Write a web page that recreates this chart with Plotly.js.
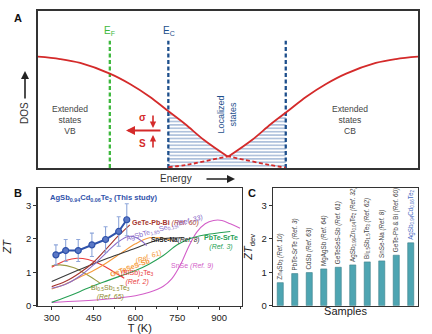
<!DOCTYPE html>
<html>
<head>
<meta charset="utf-8">
<script src="https://cdn.plot.ly/plotly-3.0.1.min.js"></script>
<style>html,body{margin:0;padding:0;background:#fff}#chart{width:432px;height:334px}</style>
</head>
<body>
<div id="chart"></div>
<script>
// ---------- Panel A : DOS schematic ----------
const leftSolidE = [0, 0.58, 1.11, 1.89, 2.42, 2.95, 3.39, 3.87, 4.37, 4.97];
const leftSolidDOS = [7.09, 6.94, 6.69, 6.01, 5.35, 4.52, 3.69, 2.80, 1.78, 0.76];
const leftDashE = [4.97, 5.58, 6.11, 6.52];
const leftDashDOS = [0.76, 0.45, 0.19, 0.02];
const rightSolidE = [5.03, 5.63, 6.13, 6.61, 7.05, 7.58, 8.11, 8.89, 9.42, 10];
const rightSolidDOS = [0.76, 1.78, 2.80, 3.69, 4.52, 5.35, 6.01, 6.69, 6.94, 7.09];
const rightDashE = [3.43, 3.89, 4.42, 5.03];
const rightDashDOS = [0.05, 0.19, 0.45, 0.76];
const hatchE = [3.43, 3.87, 4.37, 4.97, 5.03, 5.63, 6.13, 6.52];
const hatchTop = [3.55, 2.76, 1.74, 0.74, 0.74, 1.74, 2.76, 3.50];
const fermiE = 1.89;
const mobilityEdgesE = [3.43, 6.52];
const levelTop = 8.1;

// ---------- Panel B : ZT vs T ----------
const studyT = [315, 350, 395, 444, 493, 540, 569];
const studyZT = [1.52, 1.65, 1.65, 1.82, 1.98, 2.22, 2.57];
const studyErr = [0.30, 0.33, 0.33, 0.35, 0.38, 0.44, 0.48];

const geteT = [300, 350, 400, 450, 500, 540, 580];
const geteZT = [0.57, 0.73, 0.98, 1.30, 1.74, 2.10, 2.42];
const agsbteT = [300, 350, 400, 450, 500, 540, 575, 600, 625, 640];
const agsbteZT = [0.52, 0.64, 0.88, 1.22, 1.62, 1.92, 2.07, 2.05, 1.92, 1.80];
const snseNaT = [300, 400, 500, 600, 650, 700, 773];
const snseNaZT = [0.72, 1.08, 1.42, 1.72, 1.88, 2.00, 2.03];
const getesesT = [300, 350, 400, 450, 500, 550, 600, 650, 700, 730];
const getesesZT = [0.50, 0.65, 0.85, 1.05, 1.30, 1.58, 1.85, 2.03, 2.02, 1.96];
const pbteT = [300, 350, 400, 450, 500, 550, 600, 650, 700, 750, 800, 850, 900, 940];
const pbteZT = [0.10, 0.25, 0.42, 0.60, 0.75, 0.90, 1.05, 1.25, 1.50, 1.82, 2.02, 2.12, 2.18, 2.22];
const snseT = [300, 400, 500, 600, 650, 700, 730, 760, 790, 820, 850, 880, 910, 940, 975];
const snseZT = [0.10, 0.14, 0.20, 0.30, 0.40, 0.58, 0.80, 1.20, 1.75, 2.20, 2.45, 2.55, 2.55, 2.45, 2.32];
const bisbteT = [300, 350, 390, 430, 480, 520, 560];
const bisbteZT = [1.15, 1.35, 1.42, 1.38, 1.22, 1.02, 0.82];
const bi05T = [300, 330, 377, 424, 460, 475];
const bi05ZT = [1.19, 1.22, 1.14, 0.94, 0.75, 0.66];
const tTicks = [300, 450, 600, 750, 900];

// ---------- Panel C : ZT_dev bars ----------
const sampleLabels = [
  'Zn<sub>4</sub>Sb<sub>3</sub> <i>(Ref. 10)</i>',
  'PbTe-SrTe <i>(Ref. 3)</i>',
  'CdSb <i>(Ref. 63)</i>',
  'MgAgSb <i>(Ref. 64)</i>',
  'GeTeSeS-Sb <i>(Ref. 61)</i>',
  'AgSb<sub>0.96</sub>Zn<sub>0.04</sub>Te<sub>2</sub> <i>(Ref. 32)</i>',
  'Bi<sub>0.5</sub>Sb<sub>1.5</sub>Te<sub>3</sub> <i>(Ref. 62)</i>',
  'SnSe-Na <i>(Ref. 8)</i>',
  'GeTe-Pb &amp; Bi <i>(Ref. 60)</i>',
  'AgSb<sub>0.94</sub>Cd<sub>0.06</sub>Te<sub>2</sub>'
];
const sampleIds = ['s1','s2','s3','s4','s5','s6','s7','s8','s9','s10'];
const ztDev = [0.69, 0.96, 0.99, 1.10, 1.15, 1.22, 1.31, 1.34, 1.51, 1.88];

const FONT = 'Liberation Sans, Arial, sans-serif';
const RED = '#d42a2a', BLUEDK = '#1d4f8c', GREEN = '#3cb83c';

const traces = [
  // Panel A
  {x: hatchE, y: hatchTop, xaxis:'x', yaxis:'y', mode:'lines', line:{width:0}, fill:'tozeroy',
   fillcolor:'rgba(255,255,255,0)',
   fillpattern:{shape:'-', size:3.4, solidity:0.24, fgcolor:'#5a80b6', bgcolor:'rgba(255,255,255,0)'}},
  {x:[fermiE, fermiE], y:[0, levelTop], xaxis:'x', yaxis:'y', mode:'lines', line:{color:GREEN, width:2.3, dash:'4px,2.5px'}},
  {x:[mobilityEdgesE[0], mobilityEdgesE[0]], y:[0, levelTop], xaxis:'x', yaxis:'y', mode:'lines', line:{color:BLUEDK, width:2.3, dash:'4px,2.5px'}},
  {x:[mobilityEdgesE[1], mobilityEdgesE[1]], y:[0, levelTop], xaxis:'x', yaxis:'y', mode:'lines', line:{color:BLUEDK, width:2.3, dash:'4px,2.5px'}},
  {x: leftDashE, y: leftDashDOS, xaxis:'x', yaxis:'y', mode:'lines', line:{color:RED, width:1.8, dash:'4px,2.5px', shape:'spline'}},
  {x: rightDashE, y: rightDashDOS, xaxis:'x', yaxis:'y', mode:'lines', line:{color:RED, width:1.8, dash:'4px,2.5px', shape:'spline'}},
  {x: leftSolidE, y: leftSolidDOS, xaxis:'x', yaxis:'y', mode:'lines', line:{color:RED, width:1.8, shape:'spline'}},
  {x: rightSolidE, y: rightSolidDOS, xaxis:'x', yaxis:'y', mode:'lines', line:{color:RED, width:1.8, shape:'spline'}},
  // Panel B
  {x: snseT, y: snseZT, xaxis:'x2', yaxis:'y2', mode:'lines', line:{color:'#d35fc9', width:1.1, shape:'spline'}},
  {x: pbteT, y: pbteZT, xaxis:'x2', yaxis:'y2', mode:'lines', line:{color:'#27a055', width:1.1, shape:'spline'}},
  {x: bi05T, y: bi05ZT, xaxis:'x2', yaxis:'y2', mode:'lines', line:{color:'#9c9a42', width:1.1, shape:'spline'}},
  {x: bisbteT, y: bisbteZT, xaxis:'x2', yaxis:'y2', mode:'lines', line:{color:'#ea3b3b', width:1.1, shape:'spline'}},
  {x: getesesT, y: getesesZT, xaxis:'x2', yaxis:'y2', mode:'lines', line:{color:'#f59a3a', width:1.1, shape:'spline'}},
  {x: snseNaT, y: snseNaZT, xaxis:'x2', yaxis:'y2', mode:'lines', line:{color:'#3a3a3a', width:1.1, shape:'spline'}},
  {x: agsbteT, y: agsbteZT, xaxis:'x2', yaxis:'y2', mode:'lines', line:{color:'#8a6cc9', width:1.1, shape:'spline'}},
  {x: geteT, y: geteZT, xaxis:'x2', yaxis:'y2', mode:'lines', line:{color:'#a5352e', width:1.1, shape:'spline'}},
  {x: studyT, y: studyZT, xaxis:'x2', yaxis:'y2', mode:'lines+markers',
   line:{color:'#2f52aa', width:2},
   marker:{size:6, color:'#5b78c6', line:{color:'#2f52aa', width:1.2}},
   error_y:{type:'data', array: studyErr, visible:true, color:'#8ea6da', thickness:1.1, width:2}},
  // Panel C
  {type:'bar', x: sampleIds, y: ztDev, xaxis:'x3', yaxis:'y3',
   marker:{color:'#4ea5b2', line:{color:'#3d7f8a', width:0.6}},
   text: sampleLabels, textposition:'outside', textangle:-90, constraintext:'none', cliponaxis:false,
   textfont:{family:FONT, size:6.3, color:['#444','#444','#444','#444','#444','#444','#444','#444','#444','#4a6cc4']}}
];

function ann(x, y, text, opts) {
  return Object.assign({x, y, text, showarrow:false, xanchor:'center', yanchor:'middle', font:{family:FONT, size:8}}, opts||{});
}
const annA = {xref:'x', yref:'y'};
const annB = {xref:'x2', yref:'y2'};
const P = {xref:'paper', yref:'paper'};
function px(v){return v/432;} function py(v){return 1 - v/334;}

const annotations = [
  ann(px(18), py(18), '<b>A</b>', Object.assign({font:{family:FONT, size:11, color:'#111'}}, P)),
  ann(px(18), py(193), '<b>B</b>', Object.assign({font:{family:FONT, size:11, color:'#111'}}, P)),
  ann(px(252), py(193), '<b>C</b>', Object.assign({font:{family:FONT, size:11, color:'#111'}}, P)),
  // panel A texts
  ann(1.89, 8.7, 'E<sub>F</sub>', Object.assign({font:{family:FONT, size:10, color:GREEN}}, annA)),
  ann(3.45, 8.7, 'E<sub>C</sub>', Object.assign({font:{family:FONT, size:10, color:BLUEDK}}, annA)),
  ann(0.84, 3.06, 'Extended<br>states<br>VB', Object.assign({font:{family:FONT, size:8.5, color:'#444'}}, annA)),
  ann(8.2, 3.06, 'Extended<br>states<br>CB', Object.assign({font:{family:FONT, size:8.5, color:'#444'}}, annA)),
  ann(4.97, 3.4, 'Localized<br>states', Object.assign({textangle:-90, font:{family:FONT, size:9, color:BLUEDK}}, annA)),
  ann(2.76, 3.2, '<b>σ</b>', Object.assign({font:{family:FONT, size:10, color:RED}}, annA)),
  ann(2.76, 1.58, '<b>S</b>', Object.assign({font:{family:FONT, size:10, color:RED}}, annA)),
  ann(px(25), py(113), 'DOS', Object.assign({textangle:-90, font:{family:FONT, size:10, color:'#333'}}, P)),
  ann(px(176), py(178.5), 'Energy', Object.assign({font:{family:FONT, size:10, color:'#333'}}, P)),
  // arrows
  {xref:'paper', yref:'paper', x:px(25), y:py(71), ax:0, ay:29, text:'', showarrow:true, arrowhead:2, arrowsize:1, arrowwidth:1.6, arrowcolor:'#222'},
  {xref:'paper', yref:'paper', x:px(235), y:py(179), ax:-30, ay:0, text:'', showarrow:true, arrowhead:2, arrowsize:1, arrowwidth:1.6, arrowcolor:'#222'},
  {xref:'paper', yref:'paper', x:px(126), y:py(130.5), ax:36, ay:0, text:'', showarrow:true, arrowhead:2, arrowsize:0.9, arrowwidth:2, arrowcolor:RED},
  {xref:'paper', yref:'paper', x:px(153), y:py(128), ax:0, ay:-14, text:'', showarrow:true, arrowhead:2, arrowsize:0.8, arrowwidth:1.6, arrowcolor:RED},
  {xref:'paper', yref:'paper', x:px(153), y:py(135), ax:0, ay:14, text:'', showarrow:true, arrowhead:2, arrowsize:0.8, arrowwidth:1.6, arrowcolor:RED},
  // panel B texts
  ann(489, 3.22, '<b>AgSb<sub>0.94</sub>Cd<sub>0.06</sub>Te<sub>2</sub> (This study)</b>', Object.assign({font:{family:FONT, size:7.6, color:'#2f52aa'}}, annB)),
  ann(580, 2.46, '<b>GeTe-Pb-Bi</b> <i>(Ref. 60)</i>', Object.assign({xanchor:'left', font:{family:FONT, size:7, color:'#a5352e'}}, annB)),
  ann(705, 2.31, 'AgSbTe<sub>1.85</sub>Se<sub>0.15</sub><i>(Ref. 33)</i>', Object.assign({textangle:-16, font:{family:FONT, size:7, color:'#8a6cc9'}}, annB)),
  ann(742, 1.97, '<b>SnSe-Na</b><i>(Ref. 8)</i>', Object.assign({font:{family:FONT, size:6.5, color:'#222'}}, annB)),
  ann(905, 1.9, '<b>PbTe-SrTe</b><br><i>(Ref. 3)</i>', Object.assign({font:{family:FONT, size:7, color:'#27a055'}}, annB)),
  ann(580, 1.15, '<b>GeTeSeS-Sb</b>', Object.assign({textangle:-20, font:{family:FONT, size:7, color:'#f59a3a'}}, annB)),
  ann(648, 1.45, '<i>(Ref. 61)</i>', Object.assign({textangle:-20, font:{family:FONT, size:7, color:'#f59a3a'}}, annB)),
  ann(803, 1.2, 'SnSe <i>(Ref. 9)</i>', Object.assign({font:{family:FONT, size:7, color:'#d35fc9'}}, annB)),
  ann(609, 0.84, '(BiSb)<sub>2</sub>Te<sub>3</sub><br><i>(Ref. 2)</i>', Object.assign({font:{family:FONT, size:7, color:'#ea3b3b'}}, annB)),
  ann(510, 0.38, 'Bi<sub>0.5</sub>Sb<sub>1.5</sub>Te<sub>3</sub><br><i>(Ref. 65)</i>', Object.assign({font:{family:FONT, size:7, color:'#8d8b30'}}, annB))
];

const axisLine = {showline:true, mirror:true, linecolor:'#333', linewidth:1.2, showgrid:false, zeroline:false};
const tickFont = {family:FONT, size:9.5, color:'#222'};

const layout = {
  width:432, height:334, margin:{l:0, r:0, t:0, b:0},
  paper_bgcolor:'#fff', plot_bgcolor:'#fff', showlegend:false,
  font:{family:FONT, color:'#222'},
  xaxis: Object.assign({}, axisLine, {domain:[38/432, 418/432], range:[0,10], showticklabels:false, ticks:'', anchor:'y', linewidth:1.6}),
  yaxis: Object.assign({}, axisLine, {domain:[1-168/334, 1-11/334], range:[0,10], showticklabels:false, ticks:'', anchor:'x', linewidth:1.6}),
  xaxis2: Object.assign({}, axisLine, {domain:[37.5/432, 242/432], range:[249, 982], anchor:'y2',
    tickmode:'array', tickvals:tTicks, ticks:'outside', ticklen:3, tickcolor:'#333', tickfont:tickFont,
    minor:{tickmode:'linear', tick0:300, dtick:75, ticks:'outside', ticklen:2, tickcolor:'#333'},
    title:{text:'T (K)', font:{family:FONT, size:11, color:'#222'}, standoff:0}}),
  yaxis2: Object.assign({}, axisLine, {domain:[1-305.7/334, 1-188/334], range:[0, 3.52], anchor:'x2',
    tickmode:'linear', tick0:0, dtick:1, ticks:'outside', ticklen:3, tickcolor:'#333', tickfont:tickFont,
    title:{text:'<i>ZT</i>', font:{family:FONT, size:11, color:'#222'}, standoff:12}}),
  xaxis3: Object.assign({}, axisLine, {domain:[273/432, 418/432], anchor:'y3', type:'category',
    showticklabels:false, ticks:'',
    title:{text:'Samples', font:{family:FONT, size:11, color:'#222'}, standoff:1}}),
  yaxis3: Object.assign({}, axisLine, {domain:[1-305.7/334, 1-188/334], range:[0, 3.52], anchor:'x3',
    tickmode:'linear', tick0:0, dtick:1, ticks:'outside', ticklen:3, tickcolor:'#333', tickfont:tickFont,
    title:{text:'<i>ZT</i><sub>dev</sub>', font:{family:FONT, size:11, color:'#222'}, standoff:6}}),
  bargap:0.58,
  annotations: annotations
};

Plotly.newPlot('chart', traces, layout, {staticPlot:true, displayModeBar:false});
</script>
</body>
</html>
